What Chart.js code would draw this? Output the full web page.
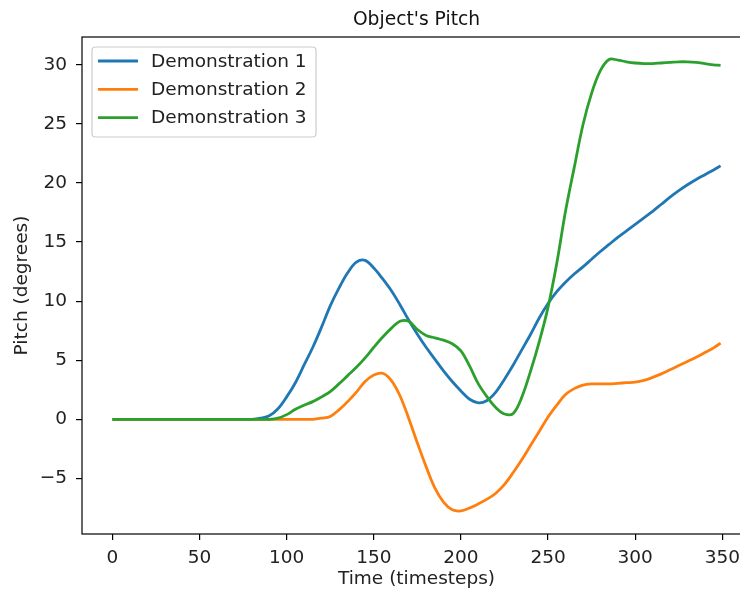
<!DOCTYPE html>
<html>
<head>
<meta charset="utf-8">
<script src="https://cdn.jsdelivr.net/npm/chart.js@4/dist/chart.umd.min.js"></script>
<style>
  html, body { margin: 0; padding: 0; background: #fff; overflow: hidden; }
  #wrap { width: 752px; height: 594px; }
</style>
</head>
<body>
<div id="wrap"><canvas id="c" width="752" height="594"></canvas></div>
<script>
// Timesteps at which the object's pitch was sampled
const times = [0,5,10,15,20,25,30,35,40,45,50,55,60,65,70,75,80,85,90,95,
  100,105,110,115,120,125,130,135,140,145,150,155,160,165,170,175,180,185,190,195,
  200,205,210,215,220,225,230,235,240,245,250,255,260,265,270,275,280,285,290,295,
  300,305,310,315,320,325,330,335,340,345,349];

// Pitch in degrees for each demonstration
const demo1 = [0,0,0,0,0,0,0,0,0,0,0,0,0,0,0,0,0,0.1,0.3,0.9,
  1.9,3.1,4.6,6.1,7.8,9.6,11.1,12.4,13.3,13.45,12.8,11.9,10.9,9.7,8.4,7.2,6.1,5.1,4.1,3.2,
  2.4,1.7,1.4,1.6,2.3,3.4,4.6,5.9,7.2,8.6,9.8,10.8,11.6,12.3,12.9,13.55,14.2,14.8,15.4,15.95,
  16.5,17.05,17.6,18.2,18.8,19.35,19.85,20.3,20.7,21.1,21.45];

const demo2 = [0,0,0,0,0,0,0,0,0,0,0,0,0,0,0,0,0,0,0,0,
  0,0,0,0,0.1,0.25,0.8,1.5,2.3,3.2,3.75,3.9,3.3,2.0,0.1,-2.0,-4.0,-5.8,-7.0,-7.65,
  -7.75,-7.5,-7.15,-6.75,-6.25,-5.5,-4.5,-3.4,-2.2,-1.0,0.2,1.2,2.1,2.6,2.9,3.0,3.0,3.0,3.05,3.1,
  3.15,3.3,3.55,3.85,4.2,4.55,4.9,5.25,5.65,6.05,6.45];

const demo3 = [0,0,0,0,0,0,0,0,0,0,0,0,0,0,0,0,0,0,0,0.1,
  0.4,0.85,1.2,1.5,1.9,2.35,3.0,3.7,4.4,5.2,6.1,6.95,7.7,8.3,8.3,7.6,7.1,6.9,6.7,6.4,
  5.8,4.5,3.0,1.9,1.0,0.45,0.5,1.9,4.1,6.6,9.5,13.2,17.6,21.3,24.9,27.6,29.5,30.45,30.4,30.25,
  30.15,30.1,30.1,30.15,30.2,30.25,30.25,30.2,30.1,30.0,29.95];

const seriesLabels = ['Demonstration 1', 'Demonstration 2', 'Demonstration 3'];
const seriesColors = ['#1f77b4', '#ff7f0e', '#2ca02c'];
const xTicks = [0, 50, 100, 150, 200, 250, 300, 350];
const yTicks = [-5, 0, 5, 10, 15, 20, 25, 30];
const chartTitle = "Object's Pitch";
const xTitle = 'Time (timesteps)';
const yTitle = 'Pitch (degrees)';

const FONT = 'DejaVu Sans';
const toPoints = vals => vals.map((v, i) => ({ x: times[i], y: v }));
const fmt = v => String(v).replace('-', '\u2212');

// Frame, title and an in-axes legend box
const decorations = {
  id: 'decorations',
  afterDraw(chart) {
    const { ctx, chartArea: a } = chart;
    ctx.save();
    ctx.strokeStyle = '#000';
    ctx.lineWidth = 1.2;
    ctx.strokeRect(a.left, a.top, a.right - a.left, a.bottom - a.top);

    ctx.fillStyle = '#111';
    ctx.font = '18.7px "' + FONT + '"';
    ctx.textAlign = 'center';
    ctx.textBaseline = 'middle';
    ctx.fillText(chartTitle, (a.left + a.right) / 2, a.top - 17);

    const bx = a.left + 10, by = a.top + 10, bw = 224, bh = 90, r = 3.5;
    ctx.beginPath();
    ctx.moveTo(bx + r, by);
    ctx.arcTo(bx + bw, by, bx + bw, by + bh, r);
    ctx.arcTo(bx + bw, by + bh, bx, by + bh, r);
    ctx.arcTo(bx, by + bh, bx, by, r);
    ctx.arcTo(bx, by, bx + bw, by, r);
    ctx.closePath();
    ctx.fillStyle = 'rgba(255,255,255,0.8)';
    ctx.fill();
    ctx.strokeStyle = '#cccccc';
    ctx.lineWidth = 1.2;
    ctx.stroke();

    ctx.font = '18.5px "' + FONT + '"';
    ctx.textAlign = 'left';
    chart.data.datasets.forEach((ds, i) => {
      const ry = by + 14 + i * 28.3;
      ctx.strokeStyle = ds.borderColor;
      ctx.lineWidth = 2.8;
      ctx.beginPath();
      ctx.moveTo(bx + 6, ry);
      ctx.lineTo(bx + 46, ry);
      ctx.stroke();
      ctx.fillStyle = '#222';
      ctx.fillText(ds.label, bx + 59, ry + 1);
    });
    ctx.restore();
  }
};

const tickFont = { family: FONT, size: 18.5 };

new Chart(document.getElementById('c'), {
  type: 'line',
  data: {
    datasets: [demo1, demo2, demo3].map((vals, i) => ({
      label: seriesLabels[i],
      data: toPoints(vals),
      borderColor: seriesColors[i],
      backgroundColor: seriesColors[i],
      borderWidth: 2.8,
      pointRadius: 0,
      fill: false,
      tension: 0.35,
      order: 3 - i
    }))
  },
  options: {
    responsive: false,
    animation: false,
    layout: { padding: { top: 37, right: 1, left: 0, bottom: 0 } },
    plugins: {
      legend: { display: false },
      title: { display: false },
      tooltip: { enabled: false }
    },
    scales: {
      x: {
        type: 'linear',
        min: -17.45,
        max: 366.45,
        afterBuildTicks: s => { s.ticks = xTicks.map(v => ({ value: v })); },
        afterFit: s => { s.height = 60; },
        border: { display: false },
        grid: { drawOnChartArea: false, drawTicks: true, tickLength: 6, color: '#000', lineWidth: 1.2 },
        ticks: { font: tickFont, color: '#222', padding: 7, maxRotation: 0, autoSkip: false, callback: fmt },
        title: { display: true, text: xTitle, font: tickFont, color: '#222', padding: { top: 0, bottom: 4 } }
      },
      y: {
        type: 'linear',
        min: -9.7,
        max: 32.35,
        afterBuildTicks: s => { s.ticks = yTicks.map(v => ({ value: v })); },
        afterFit: s => { s.width = 82; },
        border: { display: false },
        grid: { drawOnChartArea: false, drawTicks: true, tickLength: 6, color: '#000', lineWidth: 1.2 },
        ticks: { font: tickFont, color: '#222', padding: 9, autoSkip: false, callback: fmt },
        title: { display: true, text: yTitle, font: tickFont, color: '#222', padding: { top: 11, bottom: 0 } }
      }
    }
  },
  plugins: [decorations]
});
</script>
</body>
</html>
